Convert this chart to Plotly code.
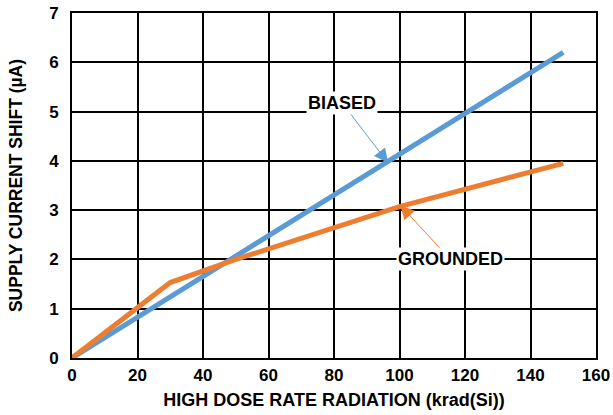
import plotly.graph_objects as go

# data
radiation_biased = [0, 150]
shift_biased = [0, 6.2]
radiation_grounded = [0, 30, 50, 100, 150]
shift_grounded = [0, 1.53, 2.0, 3.07, 3.95]

blue = "#5B9BD5"
orange = "#ED7D31"
font = "Liberation Sans"

fig = go.Figure()
fig.add_trace(go.Scatter(x=radiation_biased, y=shift_biased, mode="lines",
                         line=dict(color=blue, width=5), name="BIASED"))
fig.add_trace(go.Scatter(x=radiation_grounded, y=shift_grounded, mode="lines",
                         line=dict(color=orange, width=5), name="GROUNDED"))

axis_common = dict(showgrid=True, gridcolor="black", gridwidth=2,
                   showline=True, linecolor="black", linewidth=2, mirror=True,
                   zeroline=False, ticks="", automargin=False,
                   tickfont=dict(family=font, size=17, color="black", weight="bold"))

fig.update_xaxes(range=[0, 160], dtick=20, **axis_common, ticklabelstandoff=1,
                 title=dict(text="HIGH DOSE RATE RADIATION (krad(Si))", standoff=9,
                            font=dict(family=font, size=18, color="black", weight="bold")))
fig.update_yaxes(range=[0, 7], dtick=1, **axis_common, ticklabelstandoff=8,
                 title=dict(text="SUPPLY CURRENT SHIFT (µA)", standoff=22,
                            font=dict(family=font, size=17.5, color="black", weight="bold")))

fig.add_annotation(x=96.5, y=3.96, text="<b>BIASED</b>", showarrow=True,
                   ax=-46, ay=-60, arrowcolor=blue, arrowwidth=1, arrowhead=2, arrowsize=2.8,
                   bgcolor="white", font=dict(family=font, size=18, color="black"))
fig.add_annotation(x=100.2, y=3.1, text="<b>GROUNDED</b>", showarrow=True,
                   ax=50, ay=54, arrowcolor=orange, arrowwidth=1, arrowhead=2, arrowsize=2.8,
                   bgcolor="white", font=dict(family=font, size=18, color="black"))

fig.update_layout(width=613, height=415, showlegend=False,
                  margin=dict(l=72, r=17, t=13, b=57),
                  plot_bgcolor="white", paper_bgcolor="white")

# drop the default 8px body margin so the figure fills the window
fig.write_html("out.html", config={"displayModeBar": False},
               post_script="document.body.style.margin='0';")
